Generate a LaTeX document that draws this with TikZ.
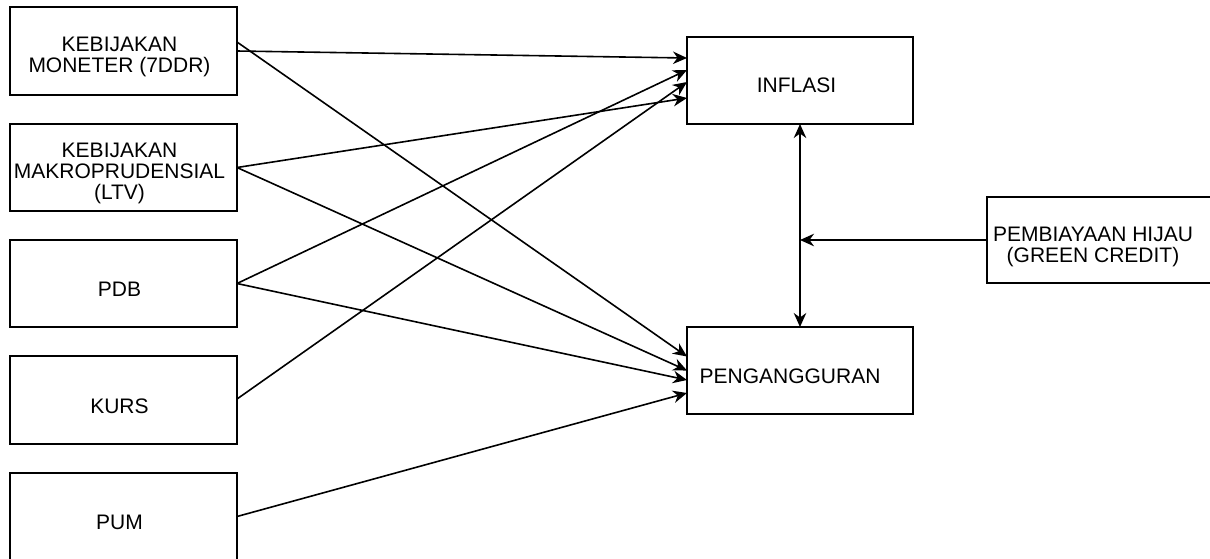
\documentclass[tikz,border=0pt]{standalone}
\usepackage{fontspec}
\setmainfont{Liberation Sans}
\usetikzlibrary{arrows.meta,calc}
\tikzset{
  boxnode/.style={draw=black, line width=1.8pt, minimum width=227pt, minimum height=87pt, inner sep=0pt, outer sep=0pt},
  boxtext/.style={xshift=-4pt, yshift=-6pt, align=center, inner sep=0pt},
  tipstyle/.style={},
  link/.style={line width=1.6pt, -{Stealth[length=14pt,width=12.5pt,inset=4.5pt]}},
  dlink/.style={line width=1.6pt, {Stealth[length=14pt,width=12.5pt,inset=4.5pt]}-{Stealth[length=14pt,width=12.5pt,inset=4.5pt]}}
}
\begin{document}
\begin{tikzpicture}[x=1pt,y=-1pt,font=\fontsize{21}{21}\selectfont]
\useasboundingbox (0,0) rectangle (1210,558);
% left column
\node[boxnode, minimum height=88pt, label={[boxtext]center:KEBIJAKAN\\MONETER (7DDR)}] (m1) at (123.5,51) {};
\node[boxnode, label={[boxtext]center:KEBIJAKAN\\MAKROPRUDENSIAL\\(LTV)}] (m2) at (123.5,167.5) {};
\node[boxnode, label={[boxtext]center:PDB}] (pdb) at (123.5,283.5) {};
\node[boxnode, minimum height=88pt, label={[boxtext]center:KURS}] (kurs) at (123.5,400) {};
\node[boxnode, label={[boxtext]center:PUM}] (pum) at (123.5,516.5) {};
% targets
\node[boxnode, minimum width=226pt, label={[boxtext,xshift=0.5pt,yshift=1pt]center:INFLASI}] (inf) at (800,80.5) {};
\node[boxnode, minimum width=226pt, label={[boxtext,xshift=-6pt]center:PENGANGGURAN}] (peng) at (800,370.5) {};
\node[boxnode, minimum height=86pt, label={[boxtext,xshift=-3.5pt,yshift=-0.5pt]center:PEMBIAYAAN HIJAU\\(GREEN CREDIT)}] (green) at (1100.5,240) {};
% connectors to INFLASI
\draw[link] (m1.east) -- ([yshift=22.5pt]inf.west);
\draw[link] (m2.east) -- ([yshift=-17.5pt]inf.west);
\draw[link] (pdb.east) -- ([yshift=10.5pt]inf.west);
\draw[link] ([yshift=1pt]kurs.east) -- ([yshift=-1.5pt]inf.west);
% connectors to PENGANGGURAN
\draw[link] ([yshift=9pt]m1.east) -- ([yshift=14pt]peng.west);
\draw[link] (m2.east) -- (peng.west);
\draw[link] (pdb.east) -- ([yshift=-9.5pt]peng.west);
\draw[link] (pum.east) -- ([yshift=-22.5pt]peng.west);
% vertical double arrow and green credit
\draw[dlink] (inf.south) -- (peng.north);
\coordinate (joint) at (inf.south |- green.west);
\draw[link] (green.west) -- (joint);
\end{tikzpicture}
\end{document}
